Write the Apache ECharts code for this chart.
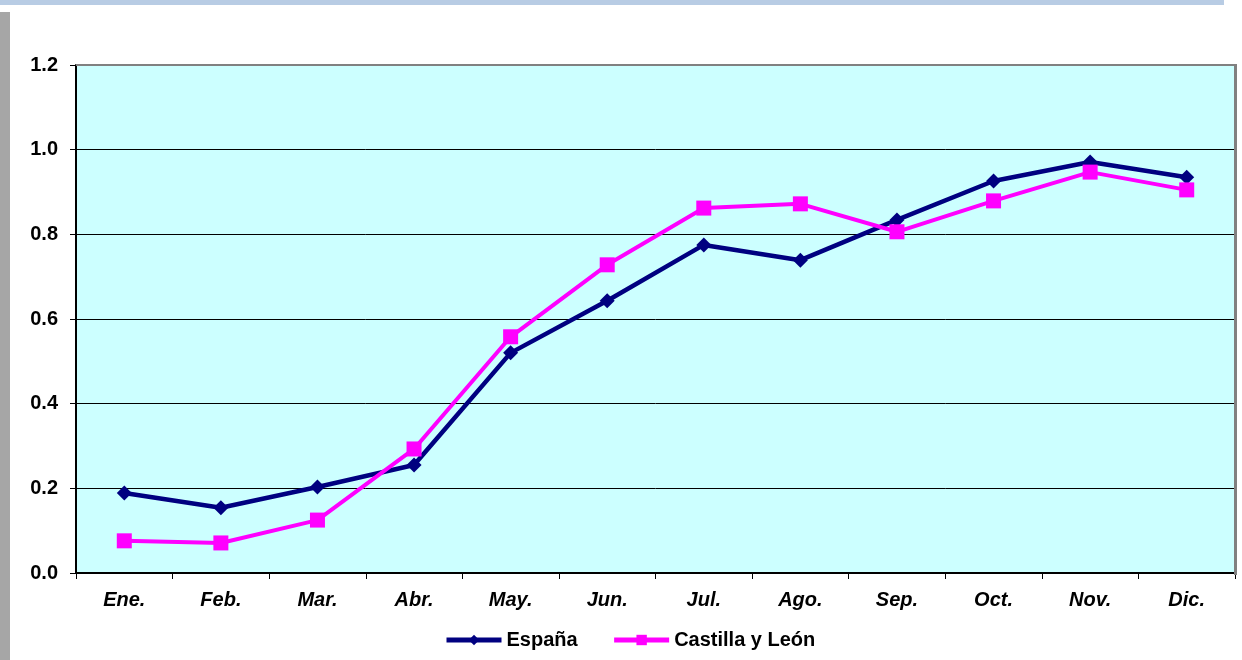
<!DOCTYPE html>
<html>
<head>
<meta charset="utf-8">
<script src="https://cdn.jsdelivr.net/npm/echarts@6/dist/echarts.min.js"></script>
<style>html,body{margin:0;padding:0;background:#fff}#c{width:1242px;height:660px}</style>
</head>
<body>
<div id="c"></div>
<script>
var months = ['Ene.','Feb.','Mar.','Abr.','May.','Jun.','Jul.','Ago.','Sep.','Oct.','Nov.','Dic.'];
var espana = [0.189,0.154,0.203,0.255,0.520,0.643,0.775,0.739,0.834,0.926,0.971,0.935];
var castilla = [0.076,0.071,0.125,0.293,0.558,0.728,0.862,0.872,0.806,0.879,0.947,0.905];
var yTicks = {min:0, max:1.2, interval:0.2};

var chart = echarts.init(document.getElementById('c'), null, {renderer:'canvas'});
var font = '"Liberation Sans", Arial, sans-serif';
chart.setOption({
  animation:false,
  backgroundColor:'#ffffff',
  graphic:[
    {type:'rect', shape:{x:0,y:0,width:1224,height:5}, style:{fill:'#b8cce4'}, z:-1},
    {type:'rect', shape:{x:0,y:12,width:10,height:648}, style:{fill:'#a6a6a6'}, z:-1},
    {type:'rect', shape:{x:1234,y:64,width:3,height:511}, style:{fill:'#808080'}, z:10},
    {type:'rect', shape:{x:76,y:64,width:1161,height:2}, style:{fill:'#808080'}, z:10}
  ],
  grid:{left:76, right:7, top:65, bottom:87, show:true, backgroundColor:'#ccffff', borderWidth:0},
  legend:{
    top:630, left:444, padding:0, itemWidth:55, itemHeight:13, itemGap:34,
    textStyle:{fontFamily:font, fontWeight:'bold', fontSize:20, color:'#000'},
    data:[
      {name:'España', lineStyle:{width:5}},
      {name:'Castilla y León', lineStyle:{width:5}}
    ]
  },
  xAxis:{
    type:'category', data:months, boundaryGap:true,
    axisLine:{lineStyle:{color:'#000', width:2}},
    axisTick:{show:true, inside:false, length:6, lineStyle:{color:'#000'}},
    axisLabel:{fontFamily:font, fontWeight:'bold', fontStyle:'italic', fontSize:20, color:'#000', margin:17},
    splitLine:{show:false}
  },
  yAxis:{
    type:'value', min:yTicks.min, max:yTicks.max, interval:yTicks.interval,
    axisLine:{show:true, lineStyle:{color:'#000', width:2}},
    axisTick:{show:true, length:6, lineStyle:{color:'#000'}},
    axisLabel:{fontFamily:font, fontWeight:'bold', fontSize:20, color:'#000', margin:18, formatter:function(v){return v.toFixed(1);}},
    splitLine:{show:true, lineStyle:{color:'#000', width:1}}
  },
  series:[
    {name:'España', type:'line', data:espana, color:'#000080', symbol:'diamond', symbolSize:15,
     lineStyle:{width:4.5, color:'#000080'}, itemStyle:{color:'#000080'}, z:3},
    {name:'Castilla y León', type:'line', data:castilla, color:'#ff00ff', symbol:'rect', symbolSize:15,
     lineStyle:{width:4, color:'#ff00ff'}, itemStyle:{color:'#ff00ff'}, z:4}
  ]
});
</script>
</body>
</html>
